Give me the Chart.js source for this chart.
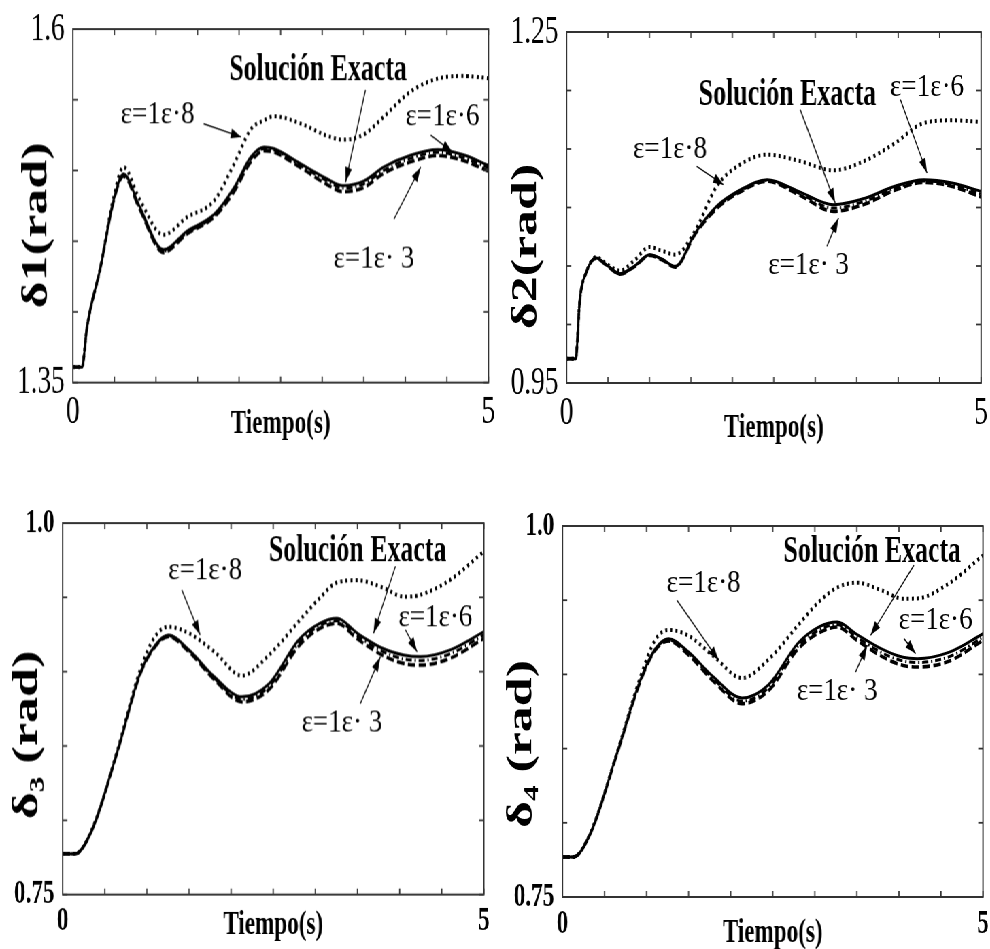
<!DOCTYPE html>
<html><head><meta charset="utf-8">
<script src="https://cdn.jsdelivr.net/npm/chart.js@4/dist/chart.umd.min.js"></script>
<style>
html,body{margin:0;padding:0;background:#fff;overflow:hidden;width:990px;height:949px}
#wrap{position:absolute;left:0;top:0;width:1456px;height:949px;transform:scaleX(0.68);transform-origin:0 0}
.pan{position:absolute}
</style></head><body><div id="wrap"></div>
<script>
// ---------- data ----------
const seriesNames = ['Solución Exacta', 'ε=1ε-3', 'ε=1ε-6', 'ε=1ε-8'];

// Panel 1: δ1
const t1 = [0, 0.11, 0.17, 0.33, 0.49, 0.61, 0.8, 1.09, 1.37, 1.7, 1.94, 2.14, 2.3, 2.42, 2.74, 3.06, 3.25, 3.5, 3.74, 4.06, 4.39, 4.7, 5];
const exact1 = [1.361,1.361,1.389,1.431,1.479,1.4976,1.475,1.444,1.457,1.469,1.488,1.5095,1.5166,1.5155,1.5047,1.494,1.4893,1.4925,1.5024,1.5107,1.5147,1.511,1.5036];
const e3_1 = [1.361,1.361,1.389,1.431,1.478,1.496,1.473,1.442,1.455,1.467,1.485,1.506,1.514,1.513,1.502,1.490,1.485,1.488,1.498,1.506,1.5105,1.507,1.4995];
const e6_1 = [1.361,1.361,1.389,1.431,1.479,1.497,1.474,1.443,1.456,1.468,1.487,1.508,1.5155,1.5145,1.5035,1.4925,1.4875,1.4905,1.500,1.5085,1.5128,1.509,1.5018];
const e8_1 = [1.361,1.361,1.389,1.431,1.481,1.5024,1.48,1.4545,1.4668,1.4787,1.5047,1.529,1.5355,1.5384,1.5332,1.5245,1.5218,1.5255,1.538,1.5557,1.565,1.5668,1.5652];

// Panel 2: δ2
const t2 = [0, 0.11, 0.16, 0.24, 0.354, 0.5, 0.644, 0.82, 1.0, 1.15, 1.31, 1.55, 1.81, 2.1, 2.42, 2.8, 3.22, 3.6, 3.95, 4.31, 4.65, 5];
const exact2 = [0.9708,0.9708,1.021,1.045,1.0568,1.050,1.0434,1.050,1.0597,1.056,1.0497,1.078,1.101,1.1152,1.1238,1.1138,1.1024,1.108,1.118,1.1238,1.121,1.1138];
const e3_2 = [0.9708,0.9708,1.021,1.045,1.0565,1.0495,1.043,1.0495,1.059,1.0553,1.049,1.077,1.099,1.1135,1.1224,1.111,1.0967,1.103,1.1145,1.1215,1.118,1.109];
const e6_2 = [0.9708,0.9708,1.021,1.045,1.0567,1.0497,1.0432,1.0497,1.0593,1.0557,1.0494,1.0775,1.100,1.1143,1.1231,1.1124,1.0995,1.1055,1.1162,1.1227,1.1195,1.1114];
const e8_2 = [0.9708,0.9708,1.021,1.045,1.0575,1.051,1.046,1.055,1.0662,1.063,1.0597,1.080,1.118,1.137,1.1452,1.140,1.1318,1.140,1.1545,1.1722,1.1745,1.1731];

// Panel 3: δ3
const t3 = [0, 0.147, 0.345, 0.642, 0.919, 1.1, 1.256, 1.5, 1.8, 2.128, 2.45, 2.8, 3.05, 3.257, 3.5, 3.8, 4.05, 4.247, 4.6, 5];
const exact3 = [0.7774,0.7774,0.7932,0.8449,0.8988,0.918,0.9247,0.9146,0.8966,0.8831,0.892,0.9213,0.9325,0.9359,0.9258,0.9157,0.9112,0.9101,0.9146,0.9269];
const e3_3 = [0.7774,0.7774,0.793,0.8445,0.898,0.917,0.9236,0.9133,0.8946,0.8797,0.888,0.917,0.929,0.9326,0.922,0.911,0.9055,0.9044,0.909,0.9224];
const e6_3 = [0.7774,0.7774,0.7931,0.8447,0.8985,0.9175,0.9242,0.914,0.8956,0.8814,0.890,0.919,0.931,0.9342,0.924,0.9135,0.9085,0.9075,0.912,0.9248];
const e8_3 = [0.7774,0.7774,0.7935,0.8455,0.901,0.924,0.9302,0.9258,0.9135,0.8973,0.9112,0.9337,0.9494,0.960,0.9615,0.9566,0.9505,0.9517,0.9618,0.9809];

// Panel 4: δ4
const t4 = [0, 0.13, 0.33, 0.647, 0.925, 1.1, 1.26, 1.5, 1.8, 2.135, 2.45, 2.8, 3.05, 3.266, 3.5, 3.8, 4.05, 4.22, 4.6, 5];
const exact4 = [0.777,0.777,0.7927,0.8466,0.896,0.917,0.9241,0.915,0.898,0.8841,0.893,0.921,0.932,0.9353,0.927,0.917,0.9115,0.9106,0.915,0.9274];
const e3_4 = [0.777,0.777,0.7925,0.846,0.895,0.916,0.9225,0.913,0.895,0.8803,0.889,0.917,0.928,0.9319,0.923,0.912,0.906,0.905,0.909,0.923];
const e6_4 = [0.777,0.777,0.7926,0.8463,0.8955,0.9165,0.9233,0.914,0.8965,0.882,0.891,0.919,0.930,0.9336,0.925,0.9145,0.909,0.908,0.912,0.925];
const e8_4 = [0.777,0.777,0.793,0.847,0.898,0.923,0.930,0.926,0.912,0.8975,0.910,0.933,0.949,0.9585,0.9618,0.9565,0.951,0.9512,0.9615,0.9802];

// tick labels (only the axis ends are labelled)
const xTickLabels = ['0', '5'];
const yTickLabels1 = ['1.35', '1.6'];
const yTickLabels2 = ['0.95', '1.25'];
const yTickLabels3 = ['0.75', '1.0'];
const yTickLabels4 = ['0.75', '1.0'];
const yTitles = ['δ1(rad)', 'δ2(rad)', 'δ₃ (rad)', 'δ₄ (rad)'];
const xTitle = 'Tiempo(s)';
const noteExact = 'Solución Exacta';
const note8 = 'ε=1ε·8', note6 = 'ε=1ε·6', note3 = 'ε=1ε· 3';

// ---------- layout / styling ----------
const SERIF = "'Liberation Serif','Times New Roman',serif";
const SX = 0.68;
const styles = [
  {borderDash: [], borderWidth: 3},
  {borderDash: [11, 5], borderWidth: 3.6},
  {borderDash: [9, 4, 2, 4], borderWidth: 3},
  {borderDash: [3, 4.5], borderWidth: 4}
];
function pts(t, v) { return t.map((tt, i) => ({x: tt, y: v[i]})); }

const panels = [
  {box: {L: 73/SX, R: 488/SX, T: 29, B: 381.7}, Bpad: 65, t: t1, ser: [exact1, e3_1, e6_1, e8_1],
   y: [1.35, 1.6], yl: yTickLabels1, tickFont: {family: SERIF, size: 40, weight: 'normal', lineHeight: 1},
   yTitle: yTitles[0] + '   ', ytPad: 22, xtPad: 6,
   notes: [
     {text: noteExact, bold: true, t: 2.95, v: 1.571, a: [3.52, 1.5569, 3.28, 1.4917]},
     {text: note8, t: 1.02, v: 1.539, a: [1.574, 1.533, 2.024, 1.5237]},
     {text: note6, t: 4.446, v: 1.5374, a: [4.305, 1.5249, 4.566, 1.513]},
     {text: note3, t: 3.622, v: 1.437, a: [3.863, 1.4656, 4.185, 1.5024]}
   ]},
  {box: {L: 566.7/SX, R: 980.7/SX, T: 32.3, B: 383.3}, Bpad: 65, t: t2, ser: [exact2, e3_2, e6_2, e8_2],
   y: [0.95, 1.25], yl: yTickLabels2, tickFont: {family: SERIF, size: 40, weight: 'normal', lineHeight: 1},
   yTitle: yTitles[1] + '      ', ytPad: 16, xtPad: 3,
   notes: [
     {text: noteExact, bold: true, t: 2.665, v: 1.1964, a: [2.818, 1.1836, 3.24, 1.1039]},
     {text: note6, t: 4.348, v: 1.2021, a: [4.026, 1.1922, 4.348, 1.1295]},
     {text: note8, t: 1.248, v: 1.1494, a: [1.57, 1.1352, 1.892, 1.1195]},
     {text: note3, t: 2.919, v: 1.0497, a: [3.14, 1.0668, 3.28, 1.091]}
   ]},
  {box: {L: 62.7/SX, R: 483.3/SX, T: 523.3, B: 894}, Bpad: 60, t: t3, ser: [exact3, e3_3, e6_3, e8_3],
   y: [0.75, 1.0], yl: yTickLabels3, tickFont: {family: SERIF, size: 34, weight: 'bold', lineHeight: 1},
   yTitle: yTitles[2] + '    ', ytPad: 23, xtPad: 12,
   notes: [
     {text: noteExact, bold: true, t: 3.502, v: 0.9809, a: [3.95, 0.9708, 3.69, 0.9258]},
     {text: note8, t: 1.692, v: 0.9674, a: [1.414, 0.955, 1.632, 0.9247]},
     {text: note6, t: 4.425, v: 0.9359, a: [4.069, 0.9281, 4.208, 0.9134]},
     {text: note3, t: 3.316, v: 0.8651, a: [3.534, 0.8786, 3.772, 0.91]}
   ]},
  {box: {L: 562.3/SX, R: 982.3/SX, T: 525.7, B: 896.7}, Bpad: 60, t: t4, ser: [exact4, e3_4, e6_4, e8_4],
   y: [0.75, 1.0], yl: yTickLabels4, tickFont: {family: SERIF, size: 34, weight: 'bold', lineHeight: 1},
   yTitle: yTitles[3] + '     ', ytPad: 15, xtPad: 7,
   notes: [
     {text: noteExact, bold: true, t: 3.683, v: 0.9825, a: [4.179, 0.9735, 3.663, 0.9263]},
     {text: note8, t: 1.679, v: 0.9611, a: [1.361, 0.9499, 1.857, 0.9095]},
     {text: note6, t: 4.437, v: 0.9364, a: [4.06, 0.9241, 4.198, 0.914]},
     {text: note3, t: 3.266, v: 0.8881, a: [3.484, 0.9016, 3.623, 0.9196]}
   ]}
];

const decor = {
  id: 'decor',
  afterDatasetsDraw(chart, args, opts) {
    const {ctx, chartArea: a, scales: {x, y}} = chart;
    ctx.save();
    ctx.strokeStyle = '#333';
    ctx.lineWidth = 2;
    ctx.strokeRect(a.left, a.top, a.right - a.left, a.bottom - a.top);
    ctx.lineWidth = 1.8;
    const seg = (x1, y1, x2, y2) => { ctx.beginPath(); ctx.moveTo(x1, y1); ctx.lineTo(x2, y2); ctx.stroke(); };
    x.ticks.forEach(tk => { const p = x.getPixelForValue(tk.value); seg(p, a.bottom, p, a.bottom - 6); seg(p, a.top, p, a.top + 6); });
    y.ticks.forEach(tk => { const p = y.getPixelForValue(tk.value); seg(a.left, p, a.left + 7, p); seg(a.right, p, a.right - 7, p); });
    ctx.fillStyle = '#000';
    ctx.strokeStyle = '#000';
    ctx.textAlign = 'center';
    ctx.textBaseline = 'middle';
    (opts.notes || []).forEach(n => {
      const px = x.getPixelForValue(n.t), py = y.getPixelForValue(n.v);
      ctx.save();
      ctx.translate(px, py);
      if (n.bold) { ctx.font = 'bold 38px ' + SERIF; }
      else { ctx.font = '31px ' + SERIF; ctx.scale(1.28, 1); }
      ctx.fillText(n.text, 0, 0);
      ctx.restore();
      const x1 = x.getPixelForValue(n.a[0]), y1 = y.getPixelForValue(n.a[1]);
      const x2 = x.getPixelForValue(n.a[2]), y2 = y.getPixelForValue(n.a[3]);
      ctx.lineWidth = 1.4;
      seg(x1, y1, x2, y2);
      const ang = Math.atan2(y2 - y1, x2 - x1), L = 15, W = 5;
      ctx.beginPath();
      ctx.moveTo(x2, y2);
      ctx.lineTo(x2 - L * Math.cos(ang) + W * Math.sin(ang), y2 - L * Math.sin(ang) - W * Math.cos(ang));
      ctx.lineTo(x2 - L * Math.cos(ang) - W * Math.sin(ang), y2 - L * Math.sin(ang) + W * Math.cos(ang));
      ctx.closePath();
      ctx.fill();
    });
    ctx.restore();
  }
};

const wrap = document.getElementById('wrap');
const LPAD = 100, TPAD = 30, RPAD = 12;
panels.forEach(p => {
  const b = p.box;
  const div = document.createElement('div');
  div.className = 'pan';
  div.style.left = (b.L - LPAD) + 'px';
  div.style.top = (b.T - TPAD) + 'px';
  div.style.width = (b.R - b.L + LPAD + RPAD) + 'px';
  div.style.height = (b.B - b.T + TPAD + p.Bpad) + 'px';
  const cv = document.createElement('canvas');
  div.appendChild(cv);
  wrap.appendChild(div);
  new Chart(cv, {
    type: 'line',
    data: {
      datasets: p.ser.map((v, i) => ({
        label: seriesNames[i],
        data: pts(p.t, v),
        borderColor: '#000',
        borderWidth: styles[i].borderWidth,
        borderDash: styles[i].borderDash,
        pointRadius: 0,
        fill: false,
        cubicInterpolationMode: 'monotone'
      }))
    },
    options: {
      responsive: true, maintainAspectRatio: false, animation: false, devicePixelRatio: 1,
      layout: {padding: {top: TPAD, right: RPAD, left: 0, bottom: 0}},
      plugins: {legend: {display: false}, tooltip: {enabled: false}, decor: {notes: p.notes}},
      scales: {
        x: {
          type: 'linear', min: 0, max: 5,
          grid: {display: false}, border: {display: false},
          afterFit: s => { s.height = p.Bpad; },
          ticks: {stepSize: 0.5, autoSkip: false, maxRotation: 0, padding: 2, color: '#000', font: p.tickFont,
                  callback: (val, i, arr) => i === 0 ? xTickLabels[0] : (i === arr.length - 1 ? xTickLabels[1] : '')},
          title: {display: true, text: xTitle, color: '#000', padding: {top: 0, bottom: p.xtPad},
                  font: {family: SERIF, size: 34, weight: 'bold', lineHeight: 1}}
        },
        y: {
          min: p.y[0], max: p.y[1],
          grid: {display: false}, border: {display: false},
          afterFit: s => { s.width = LPAD; },
          ticks: {stepSize: 0.05, autoSkip: false, padding: 4, color: '#000', font: p.tickFont,
                  callback: (val, i, arr) => i === 0 ? p.yl[0] : (i === arr.length - 1 ? p.yl[1] : '')},
          title: {display: true, text: p.yTitle, color: '#000', padding: {top: p.ytPad, bottom: 0},
                  font: {family: SERIF, size: 52, weight: 'bold', lineHeight: 1}}
        }
      }
    },
    plugins: [decor]
  });
});
</script>
</body></html>
